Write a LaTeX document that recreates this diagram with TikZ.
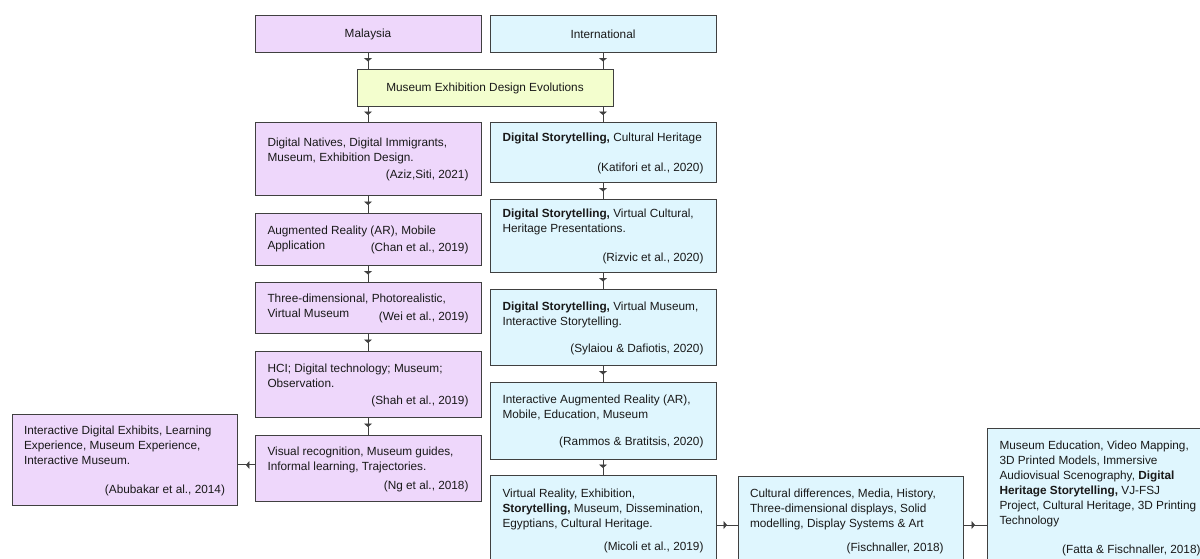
\documentclass[tikz,border=0pt]{standalone}
\usepackage{fontspec}
\setmainfont{Liberation Sans}
\usetikzlibrary{arrows.meta,positioning,calc,decorations.markings}
\definecolor{malaycol}{RGB}{238,215,251}
\definecolor{intlcol}{RGB}{223,246,254}
\definecolor{evocol}{RGB}{243,254,206}
\definecolor{edgecol}{RGB}{64,64,64}
\definecolor{txtcol}{RGB}{25,25,25}
\newcommand{\src}[2][150.75pt]{\makebox[#1][r]{#2}}

\begin{document}
\begin{tikzpicture}[
	x=0.75pt, y=-0.75pt,
	every node/.style={font=\fontsize{8.85pt}{11.25pt}\selectfont, text=txtcol},
	hdr/.style={draw=edgecol, line width=0.75pt, minimum width=169.5pt, minimum height=27.75pt, inner sep=2pt},
	litbox/.style={draw=edgecol, line width=0.75pt, align=left, minimum width=169.5pt, inner sep=2pt},
	conn/.style={color=edgecol, draw, line width=0.75pt, postaction={decorate},
		decoration={markings, mark=at position 0.5 with {\arrow{Triangle[width=6pt,length=2.6pt]}}}}
	]
	
	\clip (0,0) rectangle (1200,559);
	
	\node[hdr, fill=malaycol] (malay) at (368,34.5) {Malaysia};
	\node[hdr, fill=intlcol] (intl) at (603,34.5) {International};
	\node[hdr, fill=evocol, minimum width=192pt] (evo) at (485,88.5) {Museum Exhibition Design Evolutions};
	
	% Malaysia column
	\node[litbox, fill=malaycol, minimum height=54.75pt] (aziz) at (368,159.5) {Digital Natives, Digital Immigrants,\\Museum, Exhibition Design.\\[2pt]\src{(Aziz,Siti, 2021)}};
	\node[litbox, fill=malaycol, minimum height=39pt] (chan) at (368,240) {Augmented Reality (AR), Mobile\\\makebox[150.75pt][l]{Application\hfill\raisebox{-2pt}{(Chan et al., 2019)}}};
	\node[litbox, fill=malaycol, minimum height=38.25pt] (wei) at (368,308.5) {Three-dimensional, Photorealistic,\\\makebox[150.75pt][l]{Virtual Museum\hfill\raisebox{-2pt}{(Wei et al., 2019)}}};
	\node[litbox, fill=malaycol, minimum height=49.5pt] (shah) at (368,385) {HCI; Digital technology; Museum;\\Observation.\\[1.5pt]\src{(Shah et al., 2019)}};
	\node[litbox, fill=malaycol, minimum height=49.5pt] (ng) at (368,469) {Visual recognition, Museum guides,\\Informal learning, Trajectories.\\[3pt]\src{(Ng et al., 2018)}};
	\node[litbox, fill=malaycol, minimum width=168.75pt, minimum height=68.25pt] (abu) at (124.5,460.5) {Interactive Digital Exhibits, Learning\\Experience, Museum Experience,\\Interactive Museum.\\[10.5pt]\src{(Abubakar et al., 2014)}};
	
	% International column
	\node[litbox, fill=intlcol, minimum height=45pt] (katifori) at (603,153) {\textbf{Digital Storytelling,} Cultural Heritage\\[11.25pt]\src{(Katifori et al., 2020)}};
	\node[litbox, fill=intlcol, minimum height=54.75pt] (rizvic) at (603,236.5) {\textbf{Digital Storytelling,} Virtual Cultural,\\Heritage Presentations.\\[10.5pt]\src{(Rizvic et al., 2020)}};
	\node[litbox, fill=intlcol, minimum height=57pt] (sylaiou) at (603,328) {\textbf{Digital Storytelling,} Virtual Museum,\\Interactive Storytelling.\\[9pt]\src{(Sylaiou \& Dafiotis, 2020)}};
	\node[litbox, fill=intlcol, minimum height=57.75pt] (rammos) at (603,421.5) {Interactive Augmented Reality (AR),\\Mobile, Education, Museum\\[9pt]\src{(Rammos \& Bratitsis, 2020)}};
	\node[litbox, fill=intlcol, minimum height=67.5pt] (micoli) at (603,521) {Virtual Reality, Exhibition,\\\textbf{Storytelling,} Museum, Dissemination,\\Egyptians, Cultural Heritage.\\[6pt]\src{(Micoli et al., 2019)}};
	\node[litbox, fill=intlcol, minimum width=168.75pt, minimum height=66pt] (fisch) at (850.5,521) {Cultural differences, Media, History,\\Three-dimensional displays, Solid\\modelling, Display Systems \& Art\\[6.75pt]\src{(Fischnaller, 2018)\hspace*{5.5pt}}};
	\node[litbox, fill=intlcol, minimum height=104.25pt] (fatta) at (1100,498.5) {Museum Education, Video Mapping,\\3D Printed Models, Immersive\\Audiovisual Scenography, \textbf{Digital}\\\textbf{Heritage Storytelling,} VJ-FSJ\\Project, Cultural Heritage, 3D Printing\\Technology\\[10.5pt]\src{(Fatta \& Fischnaller, 2018)}};
	
	% connectors
	\draw[conn] (malay.south) -- (malay.south |- evo.north);
	\draw[conn] (intl.south) -- (intl.south |- evo.north);
	\draw[conn] (aziz.north |- evo.south) -- (aziz.north);
	\draw[conn] (katifori.north |- evo.south) -- (katifori.north);
	
	\draw[conn] (aziz) -- (chan);
	\draw[conn] (chan) -- (wei);
	\draw[conn] (wei) -- (shah);
	\draw[conn] (shah) -- (ng);
	
	\draw[conn] (katifori) -- (rizvic);
	\draw[conn] (rizvic) -- (sylaiou);
	\draw[conn] (sylaiou) -- (rammos);
	\draw[conn] (rammos) -- (micoli);
	
	\coordinate (ngout) at ($(ng.west)+(0,-4)$);
	\coordinate (micout) at ($(micoli.east)+(0,4)$);
	\coordinate (fisout) at ($(fisch.east)+(0,4)$);
	\draw[conn] (ngout) -- (ngout -| abu.east);
	\draw[conn] (micout) -- (micout -| fisch.west);
	\draw[conn] (fisout) -- (fisout -| fatta.west);
	
\end{tikzpicture}
\end{document}
